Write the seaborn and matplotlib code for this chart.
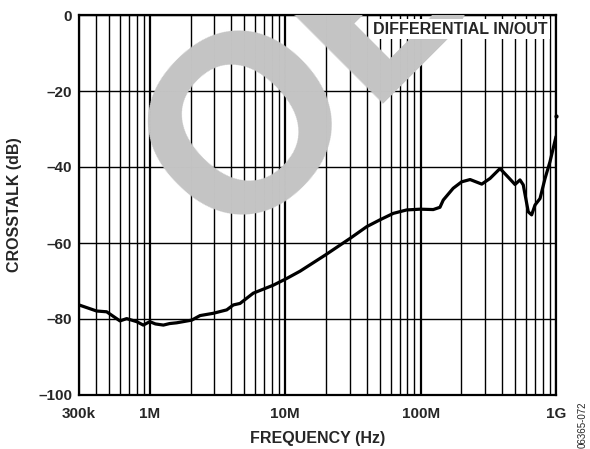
import matplotlib
matplotlib.use("Agg")
import matplotlib.pyplot as plt
import matplotlib.ticker as mticker
import numpy as np
import pandas as pd
import seaborn as sns

# Crosstalk vs. frequency, differential in/out
freq_hz = [300e3, 405e3, 480e3, 602e3, 675e3, 800e3, 895e3, 1.0e6, 1.1e6, 1.26e6,
           1.4e6, 1.58e6, 2.04e6, 2.35e6, 2.94e6, 3.70e6, 4.14e6, 4.64e6, 5.81e6,
           8.17e6, 10.3e6, 12.9e6, 19.7e6, 30.1e6, 40.0e6, 50.1e6, 62.9e6, 78.9e6,
           99e6, 124e6, 139e6, 147e6, 174e6, 201e6, 232e6, 283e6, 326e6, 386e6,
           444e6, 498e6, 542e6, 573e6, 624e6, 661e6, 700e6, 762e6, 830e6, 903e6,
           1.0e9]
crosstalk_db = [-76.3, -77.9, -78.1, -80.5, -79.9, -80.7, -81.6, -80.7, -81.3, -81.6,
                -81.2, -81.0, -80.3, -79.1, -78.5, -77.6, -76.3, -75.9, -73.2,
                -71.1, -69.3, -67.4, -63.2, -58.8, -55.7, -53.9, -52.2, -51.3,
                -51.1, -51.2, -50.6, -48.7, -45.6, -43.9, -43.3, -44.5, -43.0,
                -40.4, -42.7, -44.6, -43.4, -44.7, -51.8, -52.6, -50.0, -48.3,
                -43.0, -38.6, -32.0]
end_point_hz = [1.0e9]
end_point_db = [-26.5]

x_tick_values = [300e3, 1e6, 10e6, 100e6, 1e9]
x_tick_labels = ["300k", "1M", "10M", "100M", "1G"]
y_tick_values = [0, -20, -40, -60, -80, -100]
y_tick_labels = ["0", "–20", "–40", "–60", "–80", "–100"]

sns.set_style("white")
plt.rcParams["font.family"] = ["Liberation Sans", "DejaVu Sans"]

W, H = 590, 449
fig = plt.figure(figsize=(W / 100, H / 100), dpi=100)
ax = fig.add_axes([79 / W, 1 - 395 / H, 477 / W, 380 / H])

df = pd.DataFrame({"freq": freq_hz, "db": crosstalk_db})
sns.lineplot(data=df, x="freq", y="db", ax=ax, color="black", linewidth=2.3,
             zorder=5, sort=False)
ax.plot(end_point_hz, end_point_db, "o", color="black", markersize=2, zorder=5,
        clip_on=False)

ax.set_xscale("log")
ax.set_xlim(300e3, 1e9)
ax.set_ylim(-100, 0)

ax.xaxis.set_major_locator(mticker.FixedLocator(x_tick_values))
ax.xaxis.set_major_formatter(mticker.FixedFormatter(x_tick_labels))
minor_vals = [m * 10 ** e for e in range(5, 9) for m in range(2, 10)
              if 300e3 < m * 10 ** e < 1e9]
ax.xaxis.set_minor_locator(mticker.FixedLocator(minor_vals))
ax.xaxis.set_minor_formatter(mticker.NullFormatter())
ax.set_yticks(y_tick_values)
ax.set_yticklabels(y_tick_labels)

ax.grid(True, which="major", axis="x", color="black", linewidth=1.6, zorder=1)
ax.grid(True, which="minor", axis="x", color="black", linewidth=1.0, zorder=1)
ax.grid(True, which="major", axis="y", color="black", linewidth=1.0, zorder=1)
ax.set_axisbelow(True)

ax.tick_params(axis="both", which="both", length=0)
ax.tick_params(axis="x", pad=9)
ax.tick_params(axis="y", pad=5)
for lab in ax.get_xticklabels() + ax.get_yticklabels():
    lab.set_fontweight("bold")
    lab.set_fontsize(11)

for sp in ax.spines.values():
    sp.set_visible(True)
    sp.set_color("black")
    sp.set_linewidth(1.6)

ax.set_xlabel("")
ax.set_ylabel("")
fig.text(318 / W, 1 - 438 / H, "FREQUENCY (Hz)", ha="center", va="center",
         fontsize=11.5, fontweight="bold")
fig.text(15 / W, 1 - 205 / H, "CROSSTALK (dB)", ha="center", va="center",
         rotation=90, fontsize=11.5, fontweight="bold")
fig.text(583 / W, 1 - 425 / H, "06365-072", ha="center", va="center",
         rotation=90, fontsize=7)

# Large diagonal watermark, above the grid but below the curve
ax.text(230 / W, 1 - 247 / H, "OBSOLETE", transform=fig.transFigure,
        rotation=45, rotation_mode="anchor", ha="left", va="baseline",
        fontsize=182, fontweight="bold", color="#c4c4c4", zorder=3,
        clip_on=True, clip_box=fig.bbox)

ax.text(0.983, 0.963, "DIFFERENTIAL IN/OUT", transform=ax.transAxes,
        ha="right", va="center", fontsize=11.5, fontweight="bold", zorder=6,
        bbox=dict(boxstyle="square,pad=0.15", facecolor="white",
                  edgecolor="none"))

fig.savefig("out.png", dpi=100)
